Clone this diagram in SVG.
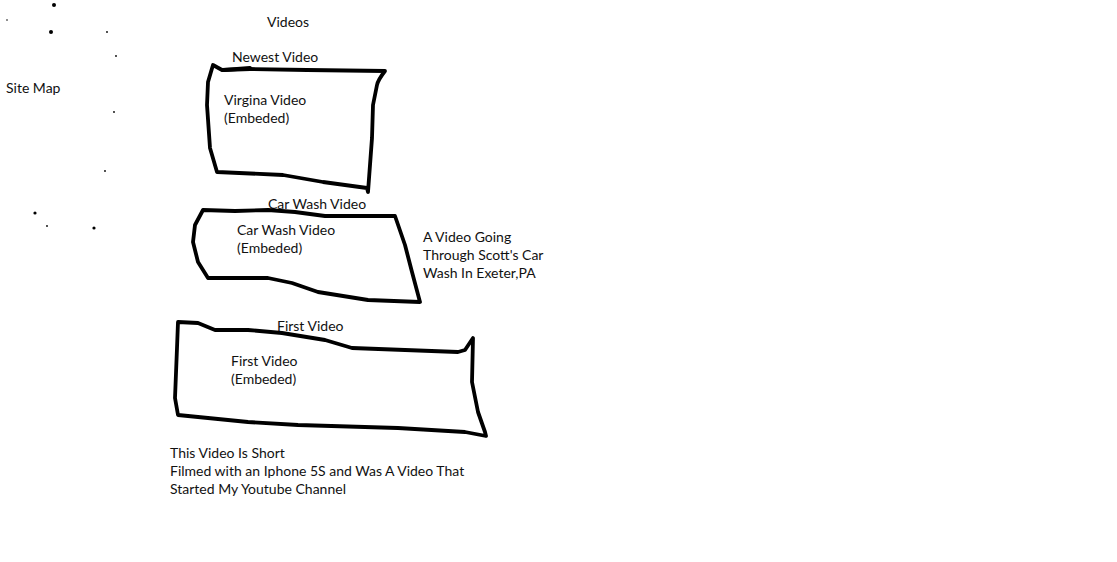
<svg xmlns="http://www.w3.org/2000/svg" width="1117" height="562" viewBox="0 0 1117 562">
<style>
text{font-family:Lato,"Liberation Sans",sans-serif;font-size:14px;fill:#111}
.box{fill:none;stroke:#000;stroke-width:3.8;stroke-linejoin:round;stroke-linecap:round}
.dot{fill:#000}
</style>
<rect width="1117" height="562" fill="#fff"/>
<g id="dots">
<circle class="dot" cx="54" cy="5" r="2"/>
<circle class="dot" cx="7" cy="20" r="0.8"/>
<circle class="dot" cx="51" cy="32" r="2"/>
<circle class="dot" cx="107" cy="32" r="0.9"/>
<circle class="dot" cx="116" cy="56" r="0.9"/>
<circle class="dot" cx="114" cy="112" r="0.9"/>
<circle class="dot" cx="105" cy="171" r="0.9"/>
<circle class="dot" cx="35" cy="213" r="1.6"/>
<circle class="dot" cx="47" cy="226" r="0.9"/>
<circle class="dot" cx="94" cy="228" r="1.6"/>
</g>
<g id="title"><text x="267" y="27">Videos</text></g>
<g id="sitemap"><text x="6" y="93">Site Map</text></g>
<g id="newest">
<text x="232" y="62">Newest Video</text>
<path class="box" d="M213,65 L222,70 L250,69 L307,70 L385,71 Q378,80 377,85 L373,105 L372,138 L368,192 L367,188 L323,182 L283,175 L217,172 L210,148 L207,105 L208,82 Z"/>
<path class="box" d="M224,70 L250,68" stroke-width="5"/>
<text x="224" y="105">Virgina Video</text>
<text x="224" y="123">(Embeded)</text>
</g>
<g id="carwash">
<text x="268" y="209">Car Wash Video</text>
<path class="box" d="M203,210 L235,211 L268,210 L295,212 L325,216 L395,216 L405,245 L412,272 L420,302 L368,300 L318,292 L292,283 L268,278 L208,278 L198,262 L193,242 L195,225 Z"/>
<text x="237" y="235">Car Wash Video</text>
<text x="237" y="253">(Embeded)</text>
<text x="423" y="242">A Video Going</text>
<text x="423" y="260">Through Scott's Car</text>
<text x="423" y="278">Wash In Exeter,PA</text>
</g>
<g id="first">
<text x="277" y="331">First Video</text>
<path class="box" d="M178,322 L198,323 L215,330 L248,330 L282,333 L325,340 L352,348 L458,352 L465,350 L473,338 L472,382 L478,412 L485,432 L486,436 L465,432 L398,428 L298,425 L248,422 L198,417 L178,415 L175,398 L177,348 Z"/>
<text x="231" y="366">First Video</text>
<text x="231" y="384">(Embeded)</text>
<text x="170" y="458">This Video Is Short</text>
<text x="170" y="476">Filmed with an Iphone 5S and Was A Video That</text>
<text x="170" y="494">Started My Youtube Channel</text>
</g>
</svg>
